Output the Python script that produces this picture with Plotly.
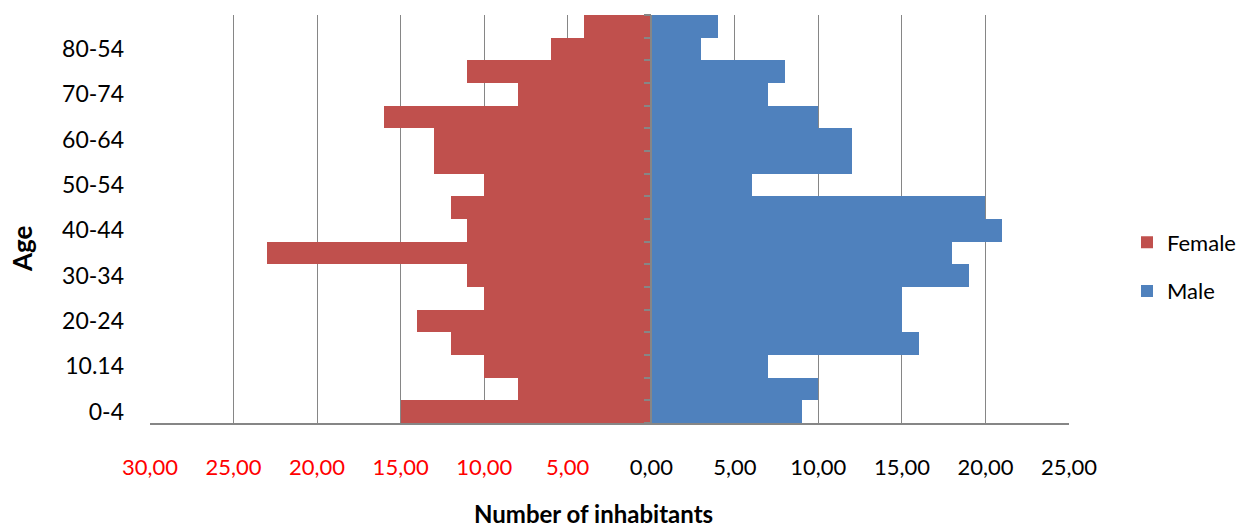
import plotly.graph_objects as go

# Age groups, bottom to top
age_groups = ["0-4", "5-9", "10.14", "15-19", "20-24", "25-29", "30-34", "35-39",
              "40-44", "45-49", "50-54", "55-59", "60-64", "65-69", "70-74",
              "75-79", "80-54", "85+"]
female = [15, 8, 10, 12, 14, 10, 11, 23, 11, 12, 10, 13, 13, 16, 8, 11, 6, 4]
male = [9, 10, 7, 16, 15, 15, 19, 18, 21, 20, 6, 12, 12, 10, 7, 8, 3, 4]

x_ticks = [-30, -25, -20, -15, -10, -5, 0, 5, 10, 15, 20, 25]
x_tick_text = ["30,00", "25,00", "20,00", "15,00", "10,00", "5,00",
               "0,00", "5,00", "10,00", "15,00", "20,00", "25,00"]
y_labels = age_groups[::2]

FEMALE_COLOR = "#C0504D"
MALE_COLOR = "#4F81BD"
GRID = "#868686"
FONT = "Lato"

fig = go.Figure()
fig.add_trace(go.Bar(
    y=age_groups, x=[-v for v in female], orientation="h", name="Female",
    marker=dict(color=FEMALE_COLOR, line=dict(width=0)),
    legendgroup="f", customdata=female,
    hovertemplate="%{y}: %{customdata}<extra>Female</extra>",
))
fig.add_trace(go.Bar(
    y=age_groups, x=male, orientation="h", name="Male",
    marker=dict(color=MALE_COLOR, line=dict(width=0)),
    legendgroup="m",
    hovertemplate="%{y}: %{x}<extra>Male</extra>",
))
# carrier for the centre axis with category-boundary ticks
fig.add_trace(go.Scatter(
    y=age_groups, x=[0] * len(age_groups), yaxis="y2", mode="markers",
    marker=dict(opacity=0), showlegend=False, hoverinfo="skip",
))

ticktext = [f'<span style="color:#FF0000">{t}</span>' if v < 0 else t
            for v, t in zip(x_ticks, x_tick_text)]

fig.update_layout(
    width=1256, height=529,
    margin=dict(l=150, r=187, t=15, b=106, autoexpand=False),
    paper_bgcolor="white", plot_bgcolor="white",
    barmode="relative", bargap=0,
    font=dict(family=FONT, size=22, color="#000000"),
    showlegend=True,
    legend=dict(x=(1127 - 150) / 919, y=(423 - 267) / 408, xanchor="left",
                yanchor="middle", tracegroupgap=17, font=dict(size=22),
                itemwidth=30),
    xaxis=dict(
        range=[-30, 25], tickmode="array", tickvals=x_ticks, ticktext=ticktext,
        showgrid=True, gridcolor=GRID, gridwidth=1, zeroline=False,
        showline=True, linecolor=GRID, linewidth=1.5, ticks="",
        ticklabelstandoff=24, tickfont=dict(size=22), automargin=False,
    ),
    yaxis=dict(
        type="category", categoryorder="array", categoryarray=age_groups,
        range=[-0.5, len(age_groups) - 0.5],
        tickmode="array", tickvals=y_labels, ticktext=y_labels,
        showgrid=False, zeroline=False, showline=False, ticks="",
        ticklabelstandoff=25, tickfont=dict(size=23), automargin=False,
    ),
    yaxis2=dict(
        type="category", categoryorder="array", categoryarray=age_groups,
        range=[-0.5, len(age_groups) - 0.5],
        overlaying="y", anchor="free", position=30 / 55, side="left",
        tickson="boundaries", ticks="outside", ticklen=7, tickwidth=1.5,
        tickcolor=GRID, showline=True, linecolor=GRID, linewidth=1.5,
        showticklabels=False, showgrid=False, zeroline=False, automargin=False,
    ),
    annotations=[
        dict(text="<b>Number of inhabitants</b>", xref="paper", yref="paper",
             x=(593 - 150) / 919, y=0, yshift=-90, showarrow=False,
             xanchor="center", yanchor="middle", font=dict(size=24)),
        dict(text="<b>Age</b>", xref="paper", yref="paper",
             x=0, y=(423 - 249) / 408, xshift=-128, textangle=-90,
             showarrow=False, xanchor="center", yanchor="middle",
             font=dict(size=26)),
    ],
)

fig.write_html("out.html")
